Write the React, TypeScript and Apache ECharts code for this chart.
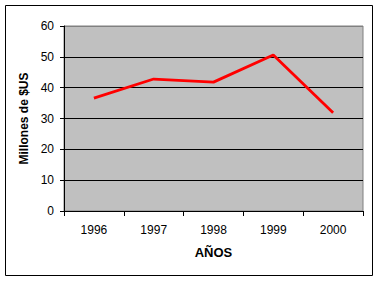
import React, { useEffect, useRef } from "react";
import * as echarts from "echarts";

const years = ["1996", "1997", "1998", "1999", "2000"];
const values = [36.6, 42.8, 41.8, 50.6, 31.9];
const yTicks = { min: 0, max: 60, interval: 10 };

export default function App() {
  const ref = useRef<HTMLDivElement>(null);
  useEffect(() => {
    const chart = echarts.init(ref.current!, null, { renderer: "svg" });
    chart.setOption({
      animation: false,
      textStyle: { fontFamily: "Arial, 'Liberation Sans', sans-serif" },
      graphic: [
        {
          type: "rect",
          shape: { x: 5.5, y: 5.5, width: 367, height: 270 },
          style: { fill: "none", stroke: "#000", lineWidth: 1 },
          z: 0,
        },
      ],
      grid: {
        left: 64,
        right: 16,
        top: 26,
        bottom: 70,
        show: true,
        backgroundColor: "#C0C0C0",
        borderColor: "#808080",
        borderWidth: 1,
      },
      xAxis: {
        type: "category",
        data: years,
        boundaryGap: true,
        name: "AÑOS",
        nameLocation: "middle",
        nameGap: 35,
        nameTextStyle: { fontWeight: "bold", fontSize: 13, color: "#000" },
        axisLine: { lineStyle: { color: "#000", width: 1 } },
        axisTick: { show: true, length: 5, alignWithLabel: false, lineStyle: { color: "#000" } },
        axisLabel: { color: "#000", fontSize: 12, margin: 13 },
        splitLine: { show: false },
      },
      yAxis: {
        type: "value",
        min: yTicks.min,
        max: yTicks.max,
        interval: yTicks.interval,
        name: "Millones de $US",
        nameLocation: "middle",
        nameGap: 29,
        nameRotate: 90,
        nameTextStyle: { fontWeight: "bold", fontSize: 12, color: "#000" },
        axisLine: { show: true, lineStyle: { color: "#000", width: 1 } },
        axisTick: { show: true, length: 4, lineStyle: { color: "#000" } },
        axisLabel: { color: "#000", fontSize: 12, margin: 10 },
        splitLine: {
          show: true,
          lineStyle: {
            color: ["#000", "#000", "#000", "#000", "#000", "#000", "#808080"],
            width: 1,
          },
        },
      },
      series: [
        {
          type: "line",
          data: values,
          symbol: "none",
          lineStyle: { color: "#FF0000", width: 2.8 },
        },
      ],
    });
    return () => chart.dispose();
  }, []);
  return <div ref={ref} style={{ width: 379, height: 281, position: "absolute", left: 0, top: 0 }} />;
}
